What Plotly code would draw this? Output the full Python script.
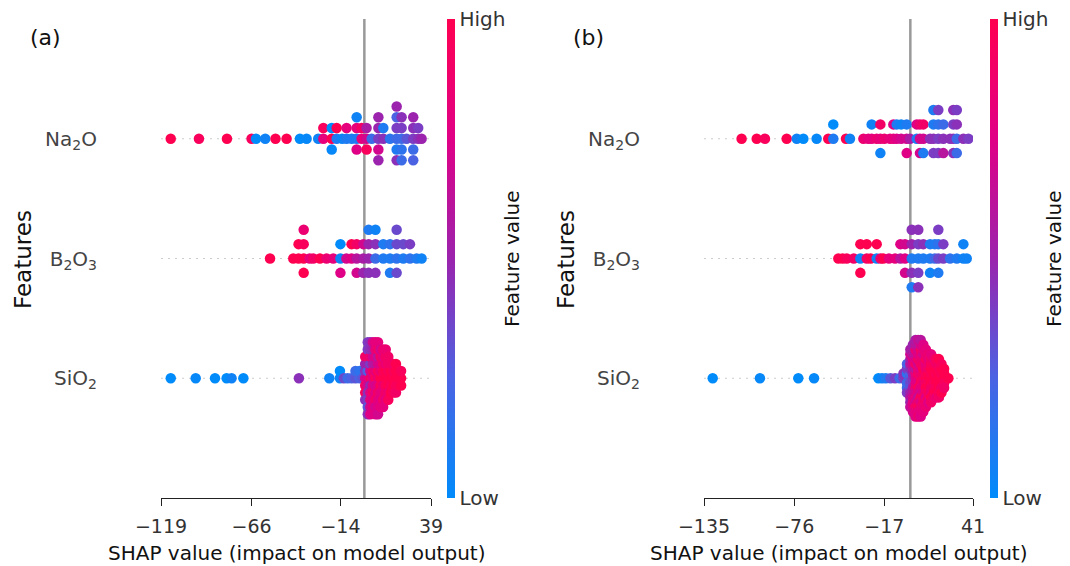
import numpy as np
import plotly.graph_objects as go

# ---------------- data ----------------
features = ["SiO<sub>2</sub>", "B<sub>2</sub>O<sub>3</sub>", "Na<sub>2</sub>O"]

# Panel (a): SHAP values (grouped where points share the same value) and normalized feature values
na2o_a_shap = [-113.3, -96.8, -80.4, -66.0, -63.4, -58.0, -52.0, -45.5, -37.7, -33.8, -27.0,
               -24.0, -19.1, -16.2, -13.0, -10.4, -7.4, -4.5, -1.6, 1.3, 4.3, 8.2, 11.1, 15.0,
               18.9, 21.8, 24.7, 28.6, 31.5, 33.5]
na2o_a_val = [[1.0], [0.95], [1.0], [0.95], [0.0], [0.05], [1.0], [1.0], [0.0], [0.02], [0.05],
              [0.8, 0.95], [1.0, 0.0, 0.02], [0.1, 1.0], [0.05], [0.1, 0.8], [0.1],
              [0.1, 0.8, 0.75, 0.05], [0.8, 0.9], [0.7, 0.55, 0.95], [0.2],
              [0.4, 0.5, 0.7, 0.5, 0.5], [0.45, 0.1], [0.15],
              [0.2, 0.4, 0.1, 0.25, 0.45, 0.5], [0.2, 0.4, 0.15, 0.45, 0.2], [0.3],
              [0.4, 0.45, 0.2, 0.5, 0.25], [0.45, 0.4], [0.5]]

b2o3_a_shap = [-55.2, -41.6, -38.5, -35.5, -32.0, -29.9, -26.0, -22.1, -18.2, -14.0, -10.5, -7.5,
               -4.5, -0.6, 2.5, 6.5, 11.1, 15.0, 18.9, 22.8, 26.7, 30.6, 33.5]
b2o3_a_val = [[1.0], [1.0], [1.0, 1.0], [1.0, 0.95, 1.0, 0.85], [0.8], [0.9], [1.0], [0.85], [0.8],
              [0.05, 0.0, 0.75], [0.7], [0.75, 1.0], [0.6, 0.9, 0.7], [0.55, 0.7, 0.5],
              [0.5, 0.5, 0.45, 0.1], [0.2, 0.45, 0.45, 0.05], [0.1, 0.1], [0.1, 0.15, 0.1],
              [0.15, 0.35, 0.35, 0.35], [0.1, 0.35], [0.15, 0.4], [0.1], [0.05]]

sio2_a_shap = [-113.3, -98.7, -87.4, -80.6, -77.7, -70.8, -38.3, -20.5, -14.3, -12.0, -9.8, -7.5,
               -5.2, -2.8, -1.0, 0.5, 2.0, 3.5, 5.0, 6.5, 8.0, 9.5, 11.0, 12.5, 14.0, 15.5, 17.0,
               18.5, 20.0, 21.5]
sio2_a_val = [[0.0], [0.02], [0.0], [0.0], [0.05], [0.0], [0.45], [0.05], [0.05, 0.0], [0.35],
              [0.2], [0.25], [0.3, 0.2], [0.25, 0.15], [0.3],
              [0.7, 0.45, 0.9, 0.5, 0.95, 0.9, 0.45],
              [0.75, 0.25, 0.7, 0.5, 0.45, 0.9, 0.4, 0.4, 0.3, 0.4, 0.45],
              [0.9, 0.7, 0.5, 0.4, 0.75, 0.85, 0.8, 0.45, 0.7, 0.45, 0.75],
              [0.8, 0.9, 0.75, 0.55, 0.9, 0.7, 0.75, 0.5, 0.8, 0.7],
              [0.95, 0.8, 0.7, 0.6, 0.75, 0.75, 0.9, 0.8, 0.7, 0.8, 0.75],
              [0.85, 0.95, 0.75, 0.7, 0.9, 0.6, 0.8, 0.9, 0.75, 0.8, 0.7],
              [1.0, 0.85, 0.95, 0.75, 0.8, 0.9, 0.75, 0.7, 0.8],
              [1.0, 0.95, 0.85, 0.9, 0.8, 0.8, 0.9, 0.85, 0.8],
              [1.0, 1.0, 0.95, 0.85, 0.9, 0.9, 0.8, 0.85],
              [1.0, 0.95, 1.0, 0.9, 0.85, 0.9, 0.95],
              [1.0, 1.0, 0.95, 0.9, 1.0],
              [1.0, 0.95, 1.0, 0.9, 0.95],
              [1.0, 1.0, 0.95, 1.0, 0.9],
              [1.0, 1.0, 0.95],
              [1.0, 0.95, 1.0]]

# Panel (b)
na2o_b_shap = [-110.4, -100.5, -95.1, -80.9, -74.3, -70.0, -61.3, -53.7, -50.4, -42.1, -39.5,
               -30.7, -27.5, -25.3, -22.0, -19.6, -17.0, -13.3, -11.1, -8.9, -6.0, -2.4, -0.2,
               4.2, 6.3, 8.5, 12.9, 15.1, 18.3, 21.6, 26.0, 28.1, 30.4, 34.7, 38.0]
na2o_b_val = [[1.0], [1.0], [0.95], [1.0], [0.05], [0.0], [0.02], [1.0], [0.1, 0.0], [1.0], [0.05],
              [0.85], [0.8], [0.8, 0.05], [0.85], [0.8, 0.9, 0.05], [0.85], [0.8], [0.8, 0.75],
              [0.75, 0.1], [0.7, 0.05], [0.7, 0.1, 0.75], [0.55], [0.1, 0.75], [0.7, 0.85, 0.7],
              [0.7, 0.9, 0.1], [0.45], [0.45, 0.1, 0.4, 0.1], [0.4, 0.15, 0.4, 0.4],
              [0.45, 0.2, 0.6], [0.45], [0.45, 0.4, 0.45, 0.45], [0.2, 0.45, 0.2, 0.4], [0.45], [0.4]]

b2o3_b_shap = [-47.1, -44.3, -41.6, -37.0, -32.7, -28.5, -26.0, -22.0, -19.5, -17.7, -14.0, -10.0,
               -6.5, -3.5, 0.9, 5.2, 8.5, 12.9, 16.0, 18.3, 21.6, 26.0, 30.4, 34.7, 36.9]
b2o3_b_val = [[1.0], [1.0], [0.95], [0.9], [0.05, 1.0, 1.0], [0.9, 1.0], [1.0], [0.05, 1.0], [0.85],
              [1.0], [0.8], [0.8], [0.6, 0.75], [0.75, 0.7, 0.7], [0.1, 0.5, 0.45, 0.45, 0.1],
              [0.1, 0.4, 0.4, 0.45, 0.45], [0.1, 0.45], [0.1, 0.1, 0.05], [0.2, 0.1],
              [0.35, 0.15, 0.1, 0.4], [0.4, 0.4], [0.15], [0.1], [0.05, 0.05], [0.05]]

sio2_b_shap = [-129.3, -98.4, -73.3, -63.0, -20.9, -18.5, -16.0, -13.0, -10.0, -7.0, -4.5, -2.2,
               0.0, 1.7, 3.4, 5.1, 6.8, 8.5, 10.2, 11.9, 13.6, 15.3, 17.0, 18.7, 20.4, 22.1, 24.9]
sio2_b_val = [[0.0], [0.02], [0.0], [0.02], [0.0], [0.05], [0.1], [0.3], [0.4], [0.2], [0.4, 0.45],
              [0.45, 0.15, 0.2, 0.4, 0.2, 0.25, 0.4],
              [0.3, 0.25, 0.35, 0.45, 0.3, 0.6, 0.5, 0.55, 0.6, 0.7, 0.5, 0.55, 0.65],
              [0.45, 0.5, 0.4, 0.6, 0.55, 0.7, 0.6, 0.75, 0.7, 0.6, 0.8, 0.55, 0.75, 0.5, 0.7],
              [0.7, 0.8, 0.75, 0.6, 0.85, 0.9, 0.7, 0.75, 0.8, 0.65, 0.7, 0.85, 0.9, 0.6, 0.8, 0.55, 0.75],
              [0.8, 0.9, 0.75, 0.85, 0.95, 0.7, 0.8, 0.9, 0.65, 0.75, 0.85, 0.7, 0.95, 0.6, 0.8, 0.65, 0.85],
              [0.9, 0.85, 0.95, 0.75, 0.8, 0.9, 0.7, 0.85, 0.95, 0.8, 0.75, 0.9, 0.85, 0.7, 0.8, 0.6, 0.75],
              [0.95, 0.9, 0.85, 1.0, 0.8, 0.9, 0.75, 0.85, 0.95, 0.7, 0.9, 0.8, 0.85, 0.75, 0.8],
              [1.0, 0.95, 0.9, 0.85, 1.0, 0.8, 0.9, 0.95, 0.75, 0.85, 0.9, 0.8, 0.85],
              [1.0, 1.0, 0.95, 0.9, 1.0, 0.85, 0.95, 0.8, 0.9, 0.85, 0.75],
              [1.0, 0.95, 1.0, 1.0, 0.9, 0.95, 0.85, 0.9, 1.0, 0.8, 0.9],
              [1.0, 1.0, 0.95, 1.0, 0.9, 0.95, 1.0, 0.85, 0.9],
              [1.0, 0.95, 1.0, 1.0, 0.95, 0.9, 1.0, 0.95, 0.85],
              [1.0, 1.0, 1.0, 0.95, 1.0, 0.9, 0.95, 1.0, 0.9],
              [1.0, 0.95, 1.0, 1.0, 0.9, 0.95, 1.0],
              [1.0, 1.0, 0.95, 1.0, 0.9],
              [1.0]]

x_ticks_a = [-119, -66, -14, 39]
x_ticks_b = [-135, -76, -17, 41]

# SHAP red-blue colormap
colorscale = [[0.0, "#008bfb"], [0.25, "rgb(75,99,227)"], [0.5, "rgb(155,35,173)"],
              [0.75, "rgb(224,0,134)"], [1.0, "#ff0051"]]

FONT = "DejaVu Sans"
W, H = 1070, 566


def expand(shap_groups, val_groups):
    xs, cs = [], []
    for s, vals in zip(shap_groups, val_groups):
        for v in vals:
            xs.append(s)
            cs.append(v)
    return np.array(xs, float), np.array(cs, float)


def beeswarm(shaps, row_height=0.4, nbins=100):
    N = len(shaps)
    quant = np.round(nbins * (shaps - shaps.min()) / (shaps.max() - shaps.min() + 1e-8))
    inds = np.argsort(quant, kind="stable")
    layer, last_bin = 0, -1
    ys = np.zeros(N)
    for ind in inds:
        if quant[ind] != last_bin:
            layer = 0
        ys[ind] = np.ceil(layer / 2) * ((layer % 2) * 2 - 1)
        layer += 1
        last_bin = quant[ind]
    ys *= 0.9 * (row_height / np.max(ys + 1))
    return ys


panels = [
    dict(data=[(sio2_a_shap, sio2_a_val), (b2o3_a_shap, b2o3_a_val), (na2o_a_shap, na2o_a_val)],
         ticks=x_ticks_a, x0=161, x1=431, cb=447, fv=512, tag="(a)"),
    dict(data=[(sio2_b_shap, sio2_b_val), (b2o3_b_shap, b2o3_b_val), (na2o_b_shap, na2o_b_val)],
         ticks=x_ticks_b, x0=704, x1=973, cb=990, fv=1054, tag="(b)"),
]

fig = go.Figure()
y_bot, y_top = 498, 19
ydom = [1 - y_bot / H, 1 - y_top / H]
annotations = []
shapes = []

for p_i, p in enumerate(panels):
    sfx = "" if p_i == 0 else "2"
    xa, ya = "x" + sfx, "y" + sfx
    ca = "coloraxis" + sfx
    for pos, (sg, vg) in enumerate(p["data"]):
        xs, cs = expand(sg, vg)
        ys = pos + beeswarm(xs)
        fig.add_trace(go.Scatter(x=xs, y=ys, mode="markers", xaxis=xa, yaxis=ya,
                                 marker=dict(size=10.5, color=cs, coloraxis=ca, line=dict(width=0)),
                                 showlegend=False, hoverinfo="skip"))
        shapes.append(dict(type="line", xref=xa + " domain", yref=ya, x0=0, x1=1, y0=pos, y1=pos,
                           line=dict(color="#cccccc", width=1, dash="2px,5px"), layer="below"))
    shapes.append(dict(type="line", xref=xa, yref=ya + " domain", x0=0, x1=0, y0=0, y1=1,
                       line=dict(color="#999999", width=2.5), layer="below"))
    xdom = [p["x0"] / W, p["x1"] / W]
    fig.layout["xaxis" + sfx] = dict(
        domain=xdom, range=[p["ticks"][0], p["ticks"][-1]], anchor=ya, automargin=False,
        tickvals=p["ticks"], ticktext=[str(t).replace("-", "\u2212") for t in p["ticks"]],
        showline=True, linecolor="#222222", linewidth=1.3, ticks="outside", ticklen=7,
        tickwidth=1.3, tickcolor="#222222", tickfont=dict(size=19, color="#333333", family=FONT),
        ticklabelstandoff=4, showgrid=False, zeroline=False, fixedrange=True)
    fig.layout["yaxis" + sfx] = dict(
        domain=ydom, range=[-1, 3], anchor=xa, tickvals=[0, 1, 2], ticktext=features,
        automargin=False, ticks="", ticklabelstandoff=63, showline=False, showgrid=False,
        zeroline=False, tickfont=dict(size=20, color="#444444", family=FONT), fixedrange=True)
    fig.layout[ca] = dict(
        colorscale=colorscale, cmin=0, cmax=1,
        colorbar=dict(x=p["cb"] / W, xanchor="left", y=1 - (y_bot + y_top) / 2 / H, yanchor="middle",
                      len=y_bot - y_top, lenmode="pixels", thickness=8, thicknessmode="pixels",
                      outlinewidth=0, tickvals=[0, 1], ticktext=["Low", "High"], ticks="",
                      tickfont=dict(size=20, color="#333333", family=FONT), xpad=0, ypad=0))
    cx = (p["x0"] + p["x1"]) / 2
    annotations += [
        dict(text="SHAP value (impact on model output)", x=cx / W, y=1 - 553 / H, xref="paper",
             yref="paper", showarrow=False, xanchor="center", yanchor="middle",
             font=dict(size=20, color="#111111", family=FONT)),
        dict(text="Features", x=(p["x0"] - 138) / W, y=1 - 260 / H, xref="paper", yref="paper",
             showarrow=False, textangle=-90, xanchor="center", yanchor="middle",
             font=dict(size=23, color="#111111", family=FONT)),
        dict(text="Feature value", x=p["fv"] / W, y=1 - 259 / H, xref="paper", yref="paper",
             showarrow=False, textangle=-90, xanchor="center", yanchor="middle",
             font=dict(size=20, color="#111111", family=FONT)),
        dict(text=p["tag"], x=(p["x0"] - 116) / W, y=1 - 37 / H, xref="paper", yref="paper",
             showarrow=False, xanchor="center", yanchor="middle",
             font=dict(size=22, color="#111111", family=FONT)),
    ]

fig.update_layout(width=W, height=H, margin=dict(l=0, r=0, t=0, b=0, autoexpand=False),
                  paper_bgcolor="white", plot_bgcolor="white", shapes=shapes,
                  annotations=annotations, font=dict(family=FONT))
fig.write_html("out.html")
